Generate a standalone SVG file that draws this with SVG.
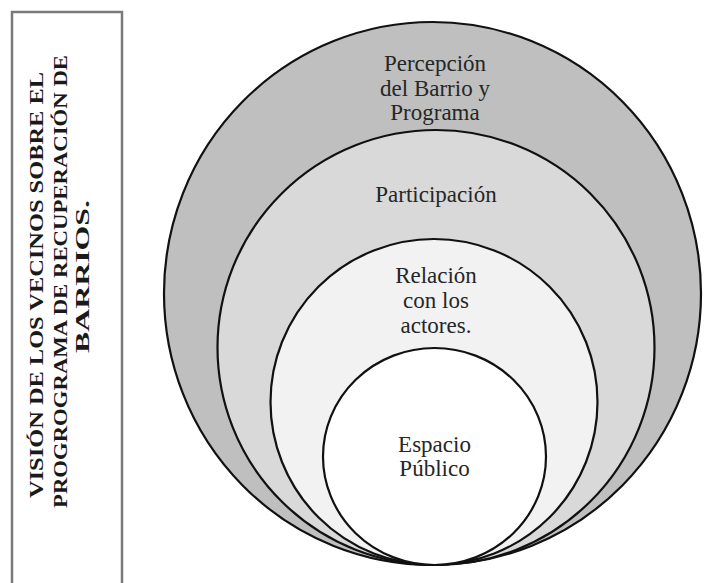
<svg xmlns="http://www.w3.org/2000/svg" width="704" height="583" viewBox="0 0 704 583">
  <style>
    .ring { stroke: #111; stroke-width: 2.2; }
    .lbl { font-size: 23px; fill: #262626; text-anchor: middle; }
    .side { font-size: 18px; font-weight: bold; fill: #1a1a1a; text-anchor: middle; }
  </style>
  <rect width="704" height="583" fill="#ffffff"/>

  <!-- vertical title box -->
  <g id="title" font-family="'Liberation Serif', 'Times New Roman', serif">
    <rect x="12" y="12" width="110" height="580" fill="#ffffff" stroke="#7a7a7a" stroke-width="2.5"/>
    <g transform="rotate(-90)">
      <text class="side" x="-285" y="43" textLength="426" lengthAdjust="spacingAndGlyphs">VISIÓN DE LOS VECINOS SOBRE EL</text>
      <text class="side" x="-281.5" y="67" textLength="453" lengthAdjust="spacingAndGlyphs">PROGROGRAMA DE RECUPERACIÓN DE</text>
      <text class="side" x="-276.5" y="89" textLength="153" lengthAdjust="spacingAndGlyphs">BARRIOS.</text>
    </g>
  </g>

  <!-- nested circles, all touching at the bottom -->
  <g font-family="'Liberation Serif', 'Times New Roman', serif">
    <g id="percepcion">
      <ellipse class="ring" cx="432.5" cy="293.5" rx="268.5" ry="271.5" fill="#bfbfbf"/>
      <text class="lbl" x="435" y="71">Percepción</text>
      <text class="lbl" x="435" y="96">del Barrio  y</text>
      <text class="lbl" x="435" y="120">Programa</text>
    </g>
    <g id="participacion">
      <ellipse class="ring" cx="436" cy="347.5" rx="218.5" ry="217.5" fill="#d9d9d9"/>
      <text class="lbl" x="436" y="202">Participación</text>
    </g>
    <g id="relacion">
      <ellipse class="ring" cx="434" cy="402" rx="163.5" ry="163" fill="#f2f2f2"/>
      <text class="lbl" x="436" y="283">Relación</text>
      <text class="lbl" x="436" y="308">con los</text>
      <text class="lbl" x="436" y="333">actores.</text>
    </g>
    <g id="espacio">
      <ellipse class="ring" cx="434.5" cy="456.5" rx="111.5" ry="108.5" fill="#ffffff"/>
      <text class="lbl" x="434.5" y="452">Espacio</text>
      <text class="lbl" x="434.5" y="476">Público</text>
    </g>
  </g>

  <g id="connectors"/>
</svg>
